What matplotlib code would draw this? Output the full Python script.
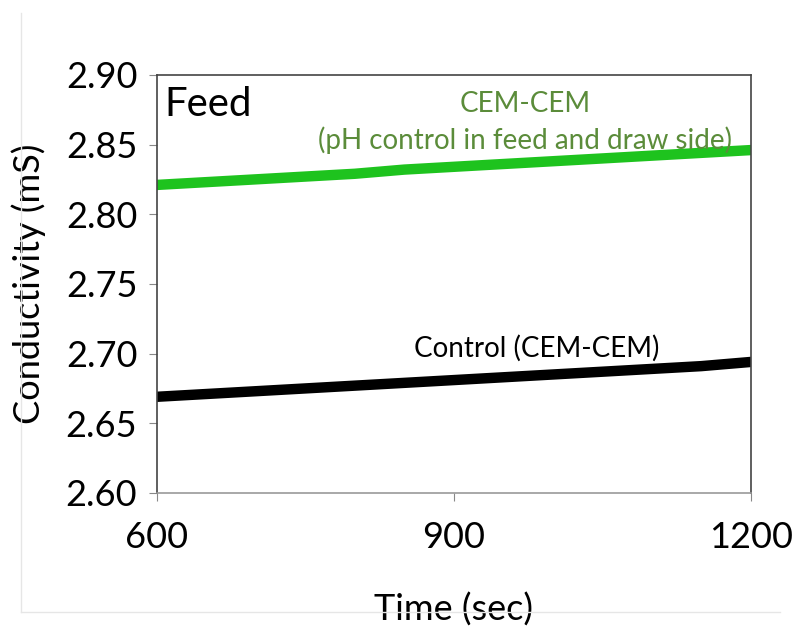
import matplotlib
matplotlib.use('Agg')
import matplotlib.pyplot as plt
from matplotlib.lines import Line2D

# Data
time = [600, 650, 700, 750, 800, 850, 900, 950, 1000, 1050, 1100, 1150, 1200]
ph_control = [2.821, 2.823, 2.825, 2.827, 2.829, 2.832, 2.834, 2.836, 2.838, 2.840, 2.842, 2.844, 2.846]
control = [2.669, 2.671, 2.673, 2.675, 2.677, 2.679, 2.681, 2.683, 2.685, 2.687, 2.689, 2.691, 2.694]

x_ticks = [600, 900, 1200]
y_ticks = [2.60, 2.65, 2.70, 2.75, 2.80, 2.85, 2.90]

plt.rcParams['font.family'] = ['Lato', 'DejaVu Sans']

fig = plt.figure(figsize=(7.92, 6.26), dpi=100)
ax = fig.add_axes([0.198, 0.2125, 0.75, 0.668])

ax.plot(time, ph_control, color='#1ec31e', lw=7.5, solid_capstyle='round')
ax.plot(time, control, color='black', lw=7.5, solid_capstyle='round')

ax.set_xlim(600, 1200)
ax.set_ylim(2.60, 2.90)
ax.set_xticks(x_ticks)
ax.set_yticks(y_ticks)
ax.set_yticklabels([f'{v:.2f}' for v in y_ticks])
ax.tick_params(labelsize=26, length=6, color='#888888')
ax.tick_params(axis='x', pad=14)
ax.tick_params(axis='y', pad=8)

for s in ['top', 'right', 'left']:
    ax.spines[s].set_color('#444444')
ax.spines['bottom'].set_color('#999999')
for s in ax.spines.values():
    s.set_linewidth(1.2)

ax.set_ylabel('Conductivity (mS)', fontsize=26, labelpad=14)
ax.set_xlabel('Time (sec)', fontsize=26, labelpad=28)

ax.text(0.012, 0.93, 'Feed', transform=ax.transAxes, fontsize=29, va='center', ha='left')
ax.text(0.62, 0.93, 'CEM-CEM', transform=ax.transAxes, fontsize=20,
        color='#5b8c3a', ha='center', va='center')
ax.text(0.62, 0.843, '(pH control in feed and draw side)', transform=ax.transAxes,
        fontsize=20, color='#5b8c3a', ha='center', va='center')
ax.text(0.64, 0.345, 'Control (CEM-CEM)', transform=ax.transAxes, fontsize=20,
        color='black', ha='center', va='center')

# faint frame around the figure
fig.add_artist(Line2D([0.026, 0.026], [0.022, 0.98], transform=fig.transFigure,
                      color='#e6e6e6', lw=1))
fig.add_artist(Line2D([0.026, 0.985], [0.022, 0.022], transform=fig.transFigure,
                      color='#e6e6e6', lw=1))

fig.savefig('out.png', dpi=100)
